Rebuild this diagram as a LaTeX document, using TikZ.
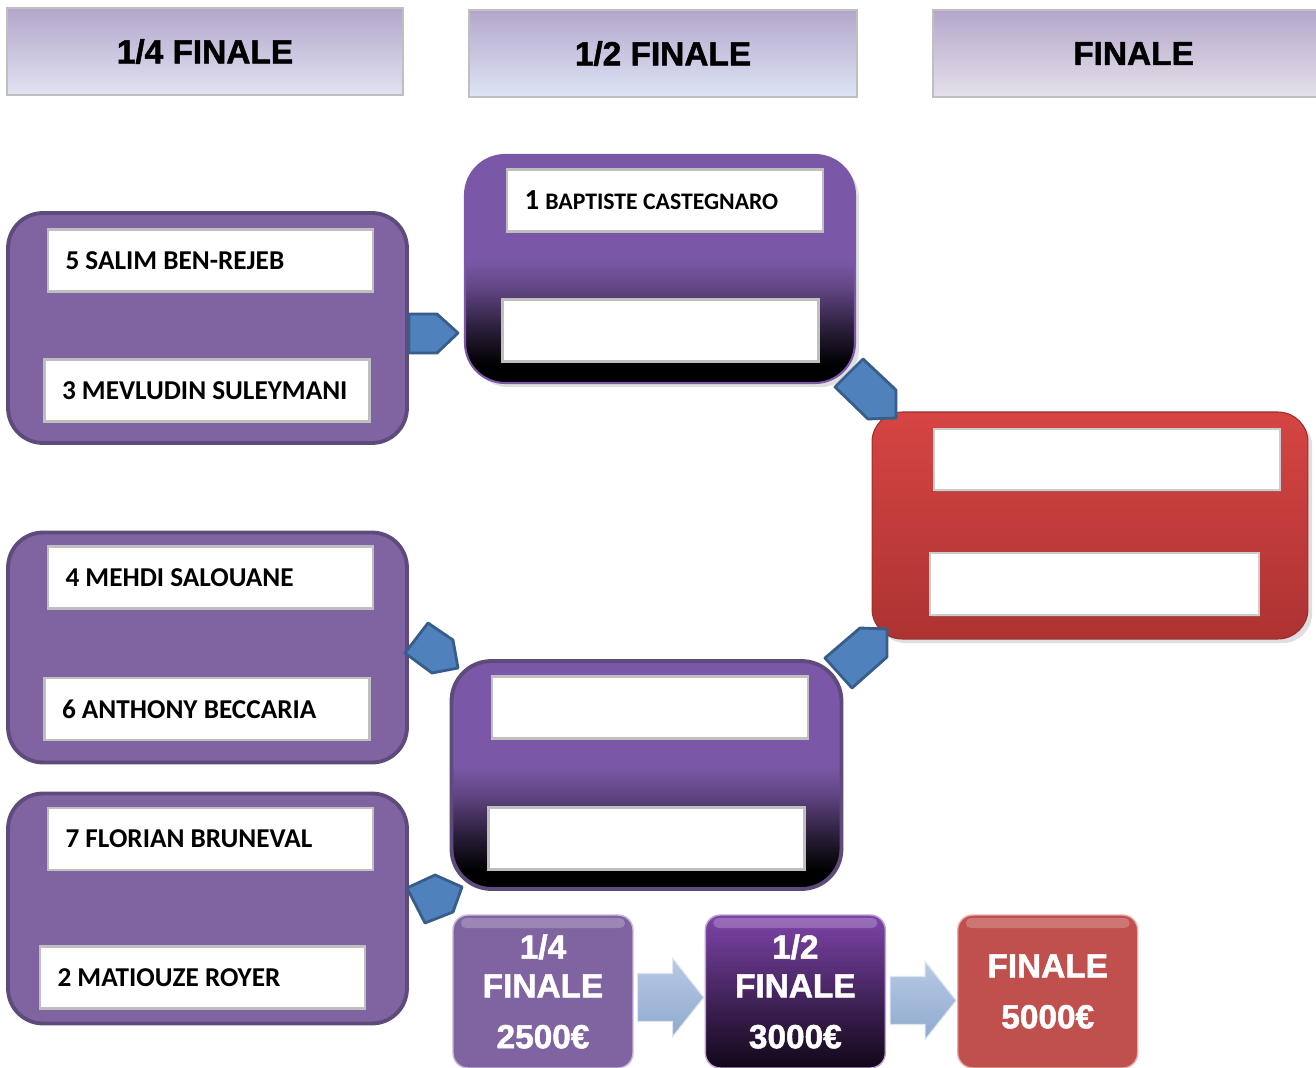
\documentclass[tikz,border=0pt]{standalone}
\usepackage{fontspec}
\setmainfont{Carlito}
\newfontfamily\headfont{Liberation Sans}[BoldFeatures={FakeBold=1.5}]
\usepackage{tikz}
\usetikzlibrary{positioning,calc,shadows}

\definecolor{qpurple}{HTML}{8064A2}
\definecolor{qborder}{HTML}{5E4B7C}
\definecolor{spurple}{HTML}{7B58A7}
\definecolor{boxline}{HTML}{BFBFBF}
\definecolor{pentfill}{HTML}{4F81BD}
\definecolor{pentline}{HTML}{385D8A}
\definecolor{ldark}{HTML}{7030A0}
\definecolor{lred}{HTML}{C0504D}
\definecolor{fredtop}{HTML}{D54544}
\definecolor{fredbot}{HTML}{AD3331}
\definecolor{flowtop}{HTML}{B7CAE4}
\definecolor{flowbot}{HTML}{8FA9CF}
\definecolor{headtop}{HTML}{B4A6CB}
\definecolor{hquarter}{HTML}{E6E1EF}
\definecolor{hquarterb}{HTML}{E1E3F2}
\definecolor{hsemi}{HTML}{C5D3EE}
\definecolor{hsemib}{HTML}{DDE5F5}
\definecolor{hfinal}{HTML}{E5B8B8}
\definecolor{hfinalb}{HTML}{E5E1EB}

\pgfdeclareverticalshading{semishade}{100bp}{color(0bp)=(black); color(29bp)=(black); color(37bp)=(spurple!35!black); color(46bp)=(spurple!80!black); color(52bp)=(spurple); color(100bp)=(spurple)}

\begin{document}
\begin{tikzpicture}[x=0.02cm,y=-0.02cm,
    head/.style={draw=boxline,line width=1.2pt,minimum height=17.4mm,top color=headtop,font=\headfont\bfseries\fontsize{19}{22}\selectfont},
    qbox/.style={draw=qborder,line width=2.2pt,fill=qpurple,rounded corners=7mm,minimum width=79.8mm,minimum height=46mm},
    sbox/.style={draw=spurple,line width=1.2pt,shade,shading=semishade,rounded corners=8mm,minimum width=78mm,minimum height=45.6mm},
    player/.style={draw=boxline,line width=1.2pt,fill=white,minimum height=12.4mm,text width=58mm,inner xsep=3.5mm,align=flush left,font=\bfseries\fontsize{15.5}{18}\selectfont},
    slot/.style={draw=boxline,line width=1.2pt,fill=white,minimum height=12.4mm,minimum width=63.2mm},
    pent/.style={fill=pentfill,draw=pentline,line width=1.6pt,line join=round},
    legend/.style={rounded corners=3mm,minimum width=36mm,minimum height=30.6mm,align=center,text=white,draw=white!55!#1,line width=0.8pt,
      font=\headfont\bfseries\fontsize{19}{22}\selectfont,
      path picture={\fill[white,opacity=0.22,rounded corners=1mm] ($(path picture bounding box.north west)+(8,3)$) rectangle ($(path picture bounding box.north east)+(-8,13)$);}},
    flow/.style={top color=flowtop,bottom color=flowbot,draw=white!70!flowbot,line width=0.6pt}]
  \useasboundingbox[fill=white] (0,0) rectangle (1316,1068);
  % round headers
  \node[head,middle color=hquarter,bottom color=hquarterb,minimum width=79.2mm] (h1) at (205,51.5) {1/4 FINALE};
  \node[head,middle color=hsemi,bottom color=hsemib,minimum width=77.6mm,right=12.8mm of h1,yshift=-0.4mm] (h2) {1/2 FINALE};
  \node[head,middle color=hfinal,bottom color=hfinalb,minimum width=80.2mm,right=14.8mm of h2] (h3) {FINALE};
  % quarter finals
  \node[qbox] (q1) at (207.5,328) {};
  \node[qbox] (q2) at (207.5,647.5) {};
  \node[qbox] (q3) at (207.5,908.5) {};
  \node[player] (p5) at (210.5,260.5) {5 SALIM BEN-REJEB};
  \node[player] (p3) at (207,390.5) {3 MEVLUDIN SULEYMANI};
  \node[player] (p4) at (210.5,577.5) {4 MEHDI SALOUANE};
  \node[player] (p6) at (207,709) {6 ANTHONY BECCARIA};
  \node[player] (p7) at (210.5,839) {7 FLORIAN BRUNEVAL};
  \node[player] (p2) at (202.5,977.5) {2 MATIOUZE ROYER};
  % semi finals
  \node[sbox,drop shadow={opacity=0.25}] (s1) at (660,269) {};
  \node[sbox,draw=qborder,line width=2.2pt] (s2) at (646.5,775) {};
  \node[player,text width=56.2mm] (s1a) at (665,200.5) {{\fontsize{16.5}{18}\selectfont 1} {\fontsize{13.5}{16}\selectfont BAPTISTE CASTEGNARO}};
  \node[slot] (s1b) at (660.5,330.5) {};
  \node[slot] (s2a) at (650,707.5) {};
  \node[slot] (s2b) at (646.5,838.5) {};
  % final
  \node[top color=fredtop,bottom color=fredbot,draw=fredbot!90!black,line width=0.6pt,rounded corners=6mm,minimum width=87.2mm,minimum height=45.4mm,drop shadow={opacity=0.25}] (fin) at (1090,525.5) {};
  \node[slot,draw=white!80!black,minimum width=69.2mm,minimum height=12.2mm,drop shadow={opacity=0.4,shadow xshift=0.3mm,shadow yshift=-0.5mm}] (fa) at (1107,459.5) {};
  \node[slot,draw=white!80!black,minimum width=65.8mm,drop shadow={opacity=0.4,shadow xshift=0.3mm,shadow yshift=-0.5mm}] (fb) at (1094.5,584) {};
  % pentagon arrows
  \draw[pent] (409,314) -- (437,314) -- (458,333) -- (437,353) -- (409,353) -- cycle;
  \draw[pent] (835,387) -- (863,359) -- (896,390) -- (896,418) -- (868,419) -- cycle;
  \draw[pent] (825,658) -- (860,628) -- (887,629) -- (887,657) -- (852,688) -- cycle;
  \draw[pent] (405,653) -- (428,623) -- (453,640) -- (458,668) -- (432,673) -- cycle;
  \draw[pent] (407,888) -- (435,875) -- (462,887) -- (453,912) -- (425,923) -- cycle;
  % prize legend
  \node[legend=qpurple,fill=qpurple] (l1) at (543,991.5) {1/4\\FINALE\\[7pt]2500€};
  \node[legend=ldark,top color=ldark!90!white,middle color=ldark!70!black,bottom color=ldark!15!black,right=14.2mm of l1] (l2) {1/2\\FINALE\\[7pt]3000€};
  \node[legend=lred,fill=lred,right=14.2mm of l2] (l3) {FINALE\\[7pt]5000€};
  \filldraw[flow] ($(l1.east)+(4,-18)$) -- ++(35,0) -- ++(0,-15) -- ($(l2.west)+(-1,6)$) -- ($(l1.east)+(39,45)$) -- ++(0,-15) -- ($(l1.east)+(4,30)$) -- cycle;
  \filldraw[flow] ($(l2.east)+(4,-15)$) -- ++(35,0) -- ++(0,-15) -- ($(l3.west)+(-1,9)$) -- ($(l2.east)+(39,48)$) -- ++(0,-15) -- ($(l2.east)+(4,33)$) -- cycle;
\end{tikzpicture}
\end{document}
